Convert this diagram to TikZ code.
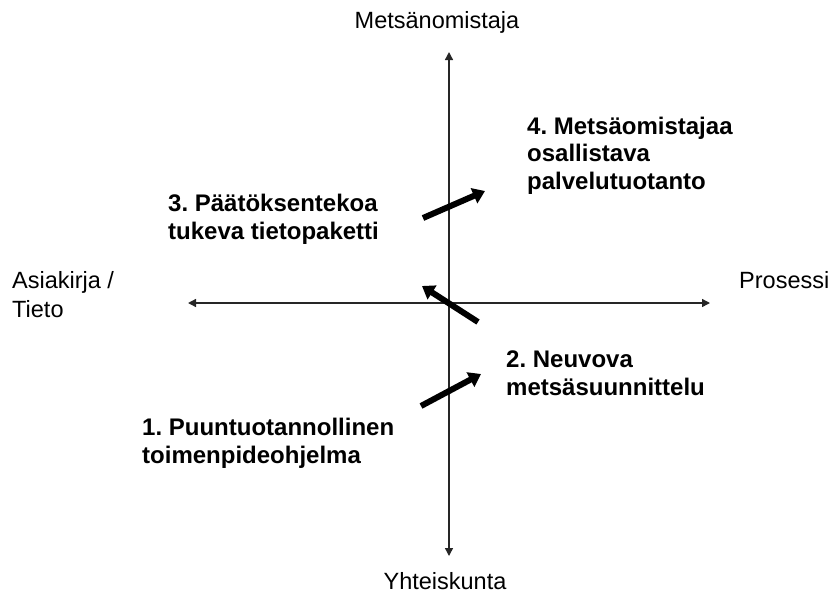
\documentclass[tikz,border=0pt]{standalone}
\usepackage{fontspec}
\setmainfont{Liberation Sans}
\usetikzlibrary{arrows.meta}
\frenchspacing

\begin{document}
\begin{tikzpicture}[x=1pt,y=-1pt,>={Triangle[length=8pt,width=8pt]},
  axislabel/.style={inner sep=0pt,font=\fontsize{23.5}{28.5}\selectfont},
  steplabel/.style={inner sep=0pt,anchor=base west,align=left,font=\fontsize{24}{27.2}\selectfont\bfseries},
  move/.style={line width=6pt,-{Triangle[length=12pt,width=16pt]}}]
\useasboundingbox (0,0) rectangle (835,595);
% axes
\coordinate (top) at (449,52);
\coordinate (bottom) at (449,556);
\coordinate (left) at (188,303);
\coordinate (right) at (710,303);
\draw[<->,line width=1.4pt,black!85] (bottom) -- (top);
\draw[<->,line width=1.4pt,black!85] (left) -- (right);
\node[axislabel,anchor=base] (owner) at (437,28) {Metsänomistaja};
\node[axislabel,anchor=base] (society) at (445,589) {Yhteiskunta};
\node[axislabel,anchor=base west,align=left] (document) at (12,317) {Asiakirja /\\Tieto};
\node[axislabel,anchor=base west] (process) at (739,288) {Prosessi};
% steps (base = last line)
\node[steplabel] (step1) at (142,463) {1. Puuntuotannollinen\\toimenpideohjelma};
\node[steplabel] (step2) at (506,395) {2. Neuvova\\metsäsuunnittelu};
\node[steplabel] (step3) at (168,239) {3. Päätöksentekoa\\tukeva tietopaketti};
\node[steplabel] (step4) at (527,189) {4. Metsäomistajaa\\osallistava\\palvelutuotanto};
% moves between steps
\coordinate (m1a) at (421,406); \coordinate (m1b) at (481,374);
\coordinate (m2a) at (478,322); \coordinate (m2b) at (422,286);
\coordinate (m3a) at (423,218); \coordinate (m3b) at (485,191);
\draw[move] (m1a) -- (m1b);
\draw[move] (m2a) -- (m2b);
\draw[move] (m3a) -- (m3b);
\end{tikzpicture}
\end{document}
